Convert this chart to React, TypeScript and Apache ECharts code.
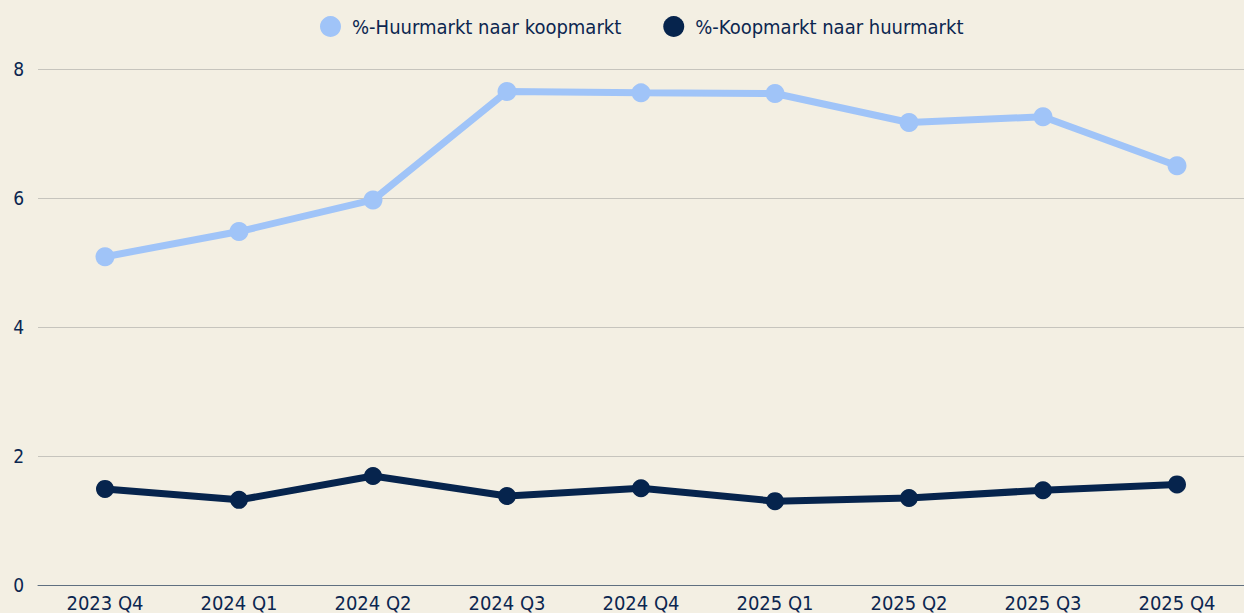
import React, { useEffect, useRef } from "react";
import * as echarts from "echarts";

const categories = ["2023 Q4", "2024 Q1", "2024 Q2", "2024 Q3", "2024 Q4", "2025 Q1", "2025 Q2", "2025 Q3", "2025 Q4"];
const huurNaarKoop = [5.09, 5.48, 5.97, 7.65, 7.63, 7.62, 7.17, 7.26, 6.5];
const koopNaarHuur = [1.49, 1.32, 1.69, 1.38, 1.5, 1.3, 1.35, 1.47, 1.56];
const seriesNames = ["%-Huurmarkt naar koopmarkt", "%-Koopmarkt naar huurmarkt"];

const FONT = "'DejaVu Sans Condensed', 'DejaVu Sans', sans-serif";
const NAVY = "#0b2650";

export default function App() {
  const ref = useRef<HTMLDivElement>(null);
  useEffect(() => {
    document.body.style.margin = "0";
    const chart = echarts.init(ref.current!, undefined, { renderer: "svg" });
    chart.setOption({
      animation: false,
      backgroundColor: "#f3efe3",
      textStyle: { fontFamily: FONT, color: NAVY },
      legend: {
        top: 11,
        left: 315,
        itemGap: 42,
        itemWidth: 21,
        itemHeight: 21,
        icon: "circle",
        textStyle: { fontFamily: FONT, fontSize: 20, color: NAVY, padding: [0, 0, 0, 6] },
        data: seriesNames,
      },
      grid: { left: 38, right: -2, top: 69, bottom: 23, containLabel: false },
      xAxis: {
        type: "category",
        data: categories,
        boundaryGap: true,
        axisTick: { show: false },
        axisLine: { show: true, lineStyle: { color: "#5f6f80", width: 1 } },
        axisLabel: { fontFamily: FONT, fontSize: 20, color: NAVY, margin: 8 },
      },
      yAxis: {
        type: "value",
        min: 0,
        max: 8,
        interval: 2,
        axisLine: { show: false },
        axisTick: { show: false },
        splitLine: { lineStyle: { color: "#c6c4bd", width: 1 } },
        axisLabel: { fontFamily: FONT, fontSize: 19, color: NAVY, margin: 14 },
      },
      series: [
        {
          name: seriesNames[0],
          type: "line",
          data: huurNaarKoop,
          symbol: "circle",
          symbolSize: 19,
          lineStyle: { width: 7, color: "#a0c4f8" },
          itemStyle: { color: "#a0c4f8" },
        },
        {
          name: seriesNames[1],
          type: "line",
          data: koopNaarHuur,
          symbol: "circle",
          symbolSize: 18,
          lineStyle: { width: 7, color: "#06244d" },
          itemStyle: { color: "#06244d" },
        },
      ],
    });
    return () => chart.dispose();
  }, []);
  return <div ref={ref} style={{ position: "fixed", left: 0, top: 0, width: 1244, height: 613 }} />;
}
